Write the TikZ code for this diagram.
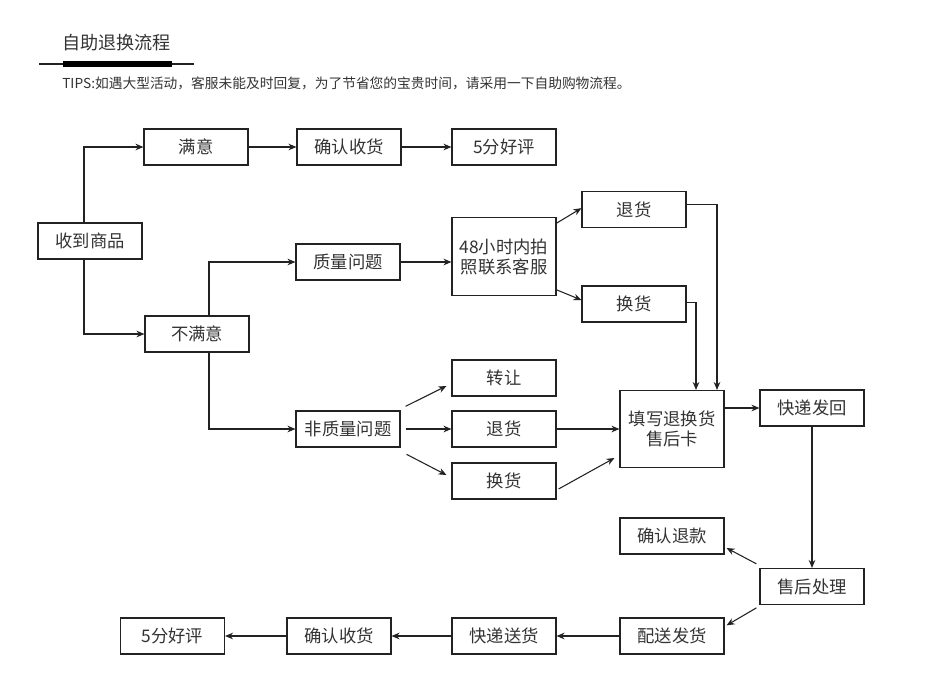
\documentclass[tikz,border=0pt]{standalone}
\usepackage{fontspec}
\setmainfont{Noto Sans CJK SC}
\usetikzlibrary{arrows.meta}
\definecolor{ink}{HTML}{222222}
\definecolor{txt}{HTML}{333333}
\tikzset{
  box/.style={draw=ink, line width=0.85pt, minimum width=78pt, minimum height=27pt, inner sep=0pt,
    text=txt, font=\fontsize{13pt}{15pt}\selectfont, align=center},
  tallbox/.style={box, minimum height=58.5pt},
  arr/.style={draw=ink, line width=0.8pt, -{Stealth[length=6pt,width=5pt]}},
}
\begin{document}
\begin{tikzpicture}[x=0.75pt, y=-0.75pt]
\useasboundingbox (0,0) rectangle (931,690);
% header
\node[text=txt, font=\fontsize{13.6pt}{15pt}\selectfont, anchor=west, inner sep=0pt] (title) at (62,43) {自助退换流程};
\draw[ink, line width=0.8pt] (39,64) -- (194,64);
\draw[black, line width=3.8pt] (63,64) -- (172,64);
\node[text=txt, font=\fontsize{10.3pt}{12pt}\selectfont, anchor=west, inner sep=0pt] (tips) at (62,83) {TIPS:如遇大型活动，客服未能及时回复，为了节省您的宝贵时间，请采用一下自助购物流程。};
% nodes
\node[box] (recv) at (90,241) {收到商品};
\node[box] (sat) at (196,147) {满意};
\node[box] (conf1) at (349,147) {确认收货};
\node[box] (good1) at (504,147) {5分好评};
\node[box] (unsat) at (197,334) {不满意};
\node[box] (qual) at (348,262) {质量问题};
\node[tallbox] (photo) at (504,256.5) {48小时内拍\\照联系客服};
\node[box] (ret1) at (634,209.5) {退货};
\node[box] (exch1) at (634,304) {换货};
\node[box] (transfer) at (504,378) {转让};
\node[box] (nonqual) at (348,429) {非质量问题};
\node[box] (ret2) at (504,429) {退货};
\node[box] (exch2) at (504,481) {换货};
\node[tallbox, minimum height=57.75pt] (card) at (672,429) {填写退换货\\售后卡};
\node[box] (ship) at (812,408) {快递发回};
\node[box] (refund) at (672,536) {确认退款};
\node[box] (proc) at (812,586.5) {售后处理};
\node[box] (deliver) at (672,636) {配送发货};
\node[box] (express) at (504,636) {快递送货};
\node[box] (conf2) at (339,636) {确认收货};
\node[box] (good2) at (172.5,636) {5分好评};
% connectors
\draw[arr] ([xshift=-4.5pt]recv.north) |- (sat.west);
\draw[arr] ([xshift=-4.5pt]recv.south) |- (unsat.west);
\draw[arr] (sat.east) -- (conf1.west);
\draw[arr] (conf1.east) -- (good1.west);
\draw[arr] ([xshift=9pt]unsat.north) |- (qual.west);
\draw[arr] ([xshift=9pt]unsat.south) |- (nonqual.west);
\draw[arr] (qual.east) -- (qual.east -| photo.west);
\draw[arr] ([yshift=25pt]photo.east) -- ([yshift=1pt]ret1.west);
\draw[arr] ([yshift=-25pt]photo.east) -- ([yshift=3pt]exch1.west);
\draw[arr] ([yshift=4pt]ret1.east) -| ([xshift=33.75pt]card.north);
\draw[arr] ([yshift=1pt]exch1.east) -| ([xshift=18pt]card.north);
\draw[arr] ([xshift=3.75pt,yshift=17pt]nonqual.east) -- ([xshift=-3.75pt,yshift=-6pt]transfer.west);
\draw[arr] ([xshift=3.75pt]nonqual.east) -- (ret2.west);
\draw[arr] ([xshift=4.5pt,yshift=-19pt]nonqual.east) -- ([xshift=-3.75pt,yshift=4.5pt]exch2.west);
\draw[arr] (ret2.east) -- (ret2.east -| card.west);
\draw[arr] ([xshift=1.5pt,yshift=-6pt]exch2.east) -- ([xshift=-3.75pt,yshift=-21.75pt]card.west);
\draw[arr] (card.east |- ship.west) -- (ship.west);
\draw[arr] (ship.south) -- (proc.north);
\draw[arr] ([xshift=-2.25pt,yshift=17pt]proc.west) -- ([xshift=1.5pt,yshift=-9pt]refund.east);
\draw[arr] ([xshift=-2.25pt,yshift=-16pt]proc.west) -- ([xshift=1.5pt,yshift=8pt]deliver.east);
\draw[arr] (deliver.west) -- (express.east);
\draw[arr] (express.west) -- (conf2.east);
\draw[arr] (conf2.west) -- (good2.east);
\end{tikzpicture}
\end{document}
